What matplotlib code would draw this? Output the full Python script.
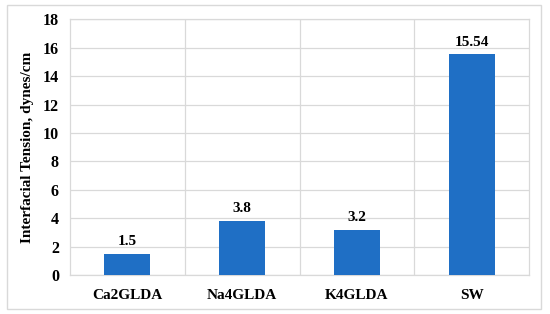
import numpy as np
import matplotlib.pyplot as plt
from matplotlib.patches import Rectangle

categories = ["Ca2GLDA", "Na4GLDA", "K4GLDA", "SW"]
tension = [1.5, 3.8, 3.2, 15.54]
labels = ["1.5", "3.8", "3.2", "15.54"]

plt.rcParams['font.family'] = ['Liberation Serif', 'DejaVu Serif']
plt.rcParams['font.weight'] = 'bold'

fig = plt.figure(figsize=(5.5, 3.14), dpi=100)
ax = fig.add_axes([0.1273, 0.124, 0.8347, 0.814])

x = np.arange(len(categories))
bars = ax.bar(x, tension, width=0.4, color='#1F6FC5', zorder=3)
for b, t in zip(bars, labels):
    ax.text(b.get_x() + b.get_width() / 2, b.get_height() + 0.4, t,
            ha='center', va='bottom', fontsize=11, fontweight='bold')

ax.set_xlim(-0.5, len(categories) - 0.5)
ax.set_ylim(0, 18)
ax.set_yticks(np.arange(0, 19, 2))
ax.set_xticks(x)
ax.set_xticklabels(categories, fontsize=11, fontweight='bold')
ax.tick_params(axis='y', labelsize=11.5, length=0, pad=8)
ax.tick_params(axis='x', length=0, pad=10)
ax.set_xticks(np.arange(0.5, len(categories) - 0.5, 1), minor=True)
ax.tick_params(axis='x', which='minor', length=0)
ax.yaxis.grid(True, color='#d9d9d9', lw=0.9, zorder=0)
ax.xaxis.grid(True, which='minor', color='#d9d9d9', lw=0.9, zorder=0)
for s in ax.spines.values():
    s.set_color('#d9d9d9')
    s.set_linewidth(0.9)
ax.set_ylabel("Interfacial Tension, dynes/cm", fontsize=11, fontweight='bold', labelpad=6)

fig.patches.append(Rectangle((7 / 550, 5 / 314), 534 / 550, 304 / 314,
                             transform=fig.transFigure, fill=False,
                             edgecolor='#d9d9d9', lw=1.0))

fig.savefig("out.png", dpi=100)
